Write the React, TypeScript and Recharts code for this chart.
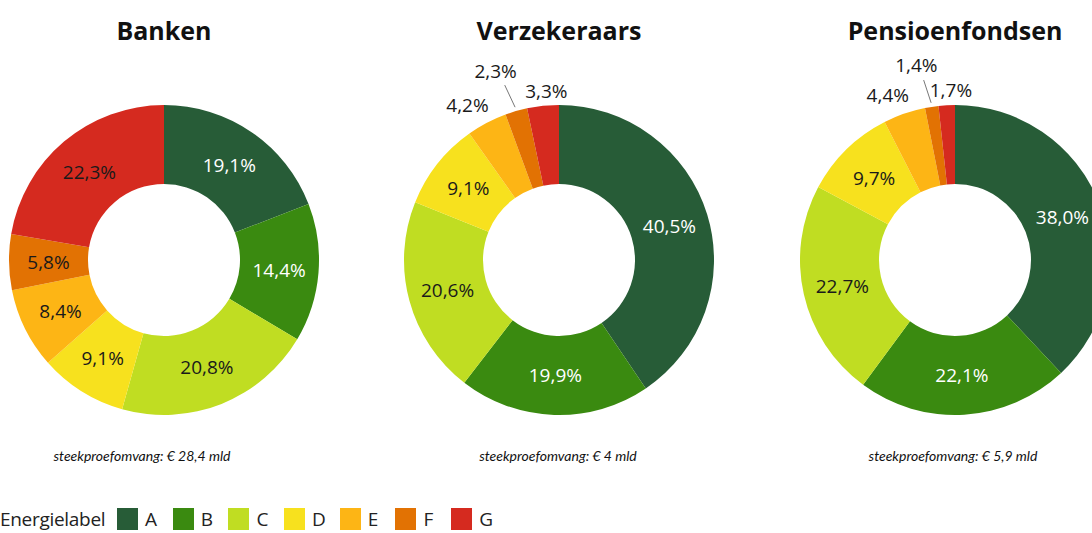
import { PieChart, Pie, Cell, Legend, Customized } from 'recharts';

const categories = ['A', 'B', 'C', 'D', 'E', 'F', 'G'];
const colors = ['#275c37', '#3a8a10', '#c0dd22', '#f7e11e', '#fdb515', '#e27203', '#d52a1f'];

const banken = [19.1, 14.4, 20.8, 9.1, 8.4, 5.8, 22.3];
const verzekeraars = [40.5, 19.9, 20.6, 9.1, 4.2, 2.3, 3.3];
const pensioenfondsen = [38.0, 22.1, 22.7, 9.7, 4.4, 1.4, 1.7];

const titles = ['Banken', 'Verzekeraars', 'Pensioenfondsen'];
const subtitles = [
  'steekproefomvang: € 28,4 mld',
  'steekproefomvang: € 4 mld',
  'steekproefomvang: € 5,9 mld',
];

const W = 1092;
const H = 533;
const CY = 260;
const centers = [164, 559, 955];
const subtitleX = [142, 558, 953];
const INNER = 76;
const OUTER = 155;
const FONT = '"Open Sans", "Noto Sans", sans-serif';
const RAD = Math.PI / 180;

// outside placement for the thin slices (E, F, G) in the 2nd and 3rd donut
const outside: Record<number, { r: number; dx: number; leader?: boolean }> = {
  4: { r: 175, dx: -10 },
  5: { r: 197, dx: -9, leader: true },
  6: { r: 170, dx: 5 },
};

const fmt = (v: number) => v.toFixed(1).replace('.', ',') + '%';

const series = [banken, verzekeraars, pensioenfondsen].map((vals) =>
  vals.map((v, i) => ({ name: categories[i], value: v }))
);

function makeLabel(chartIdx: number) {
  return (props: any) => {
    const { cx, cy, midAngle, innerRadius, outerRadius, index, value } = props;
    const cos = Math.cos(-midAngle * RAD);
    const sin = Math.sin(-midAngle * RAD);
    const place = chartIdx > 0 ? outside[index] : undefined;
    if (place) {
      const x = cx + place.r * cos + place.dx;
      const y = cy + place.r * sin;
      return (
        <g key={`lbl-${chartIdx}-${index}`}>
          {place.leader && (
            <line
              x1={cx + (outerRadius + 4) * cos}
              y1={cy + (outerRadius + 4) * sin}
              x2={cx + (outerRadius + 27) * cos - 4}
              y2={cy + (outerRadius + 27) * sin}
              stroke="#777"
              strokeWidth={1}
            />
          )}
          <text x={x} y={y} fill="#1a1a1a" fontSize={19} fontFamily={FONT} textAnchor="middle" dominantBaseline="central">
            {fmt(value)}
          </text>
        </g>
      );
    }
    const r = (innerRadius + outerRadius) / 2;
    return (
      <text
        key={`lbl-${chartIdx}-${index}`}
        x={cx + r * cos}
        y={cy + r * sin}
        fill={index < 2 ? '#ffffff' : '#1a1a1a'}
        fontSize={19}
        fontFamily={FONT}
        textAnchor="middle"
        dominantBaseline="central"
      >
        {fmt(value)}
      </text>
    );
  };
}

const Headings = () => (
  <g>
    {titles.map((t, i) => (
      <text key={t} x={centers[i]} y={30} textAnchor="middle" dominantBaseline="central"
        fontFamily={FONT} fontWeight={700} fontSize={25} fill="#111">
        {t}
      </text>
    ))}
    {subtitles.map((s, i) => (
      <text key={s} x={subtitleX[i]} y={455} textAnchor="middle" dominantBaseline="central"
        fontFamily='Lato, "Open Sans", sans-serif' fontStyle="italic" fontSize={14} fill="#111">
        {s}
      </text>
    ))}
  </g>
);

const LegendContent = () => (
  <div style={{ display: 'flex', alignItems: 'flex-start', fontFamily: FONT, fontSize: 19, color: '#222', lineHeight: '20px' }}>
    <span style={{ width: 117, marginTop: 1, letterSpacing: -0.3, whiteSpace: 'nowrap' }}>Energielabel</span>
    {categories.map((c, i) => (
      <span key={c} style={{ display: 'flex', alignItems: 'flex-start', width: 55.7 }}>
        <span style={{ width: 21, height: 22, background: colors[i], display: 'inline-block' }} />
        <span style={{ marginLeft: 7, marginTop: 1 }}>{c}</span>
      </span>
    ))}
  </div>
);

export default function App() {
  return (
    <div style={{ position: 'absolute', left: 0, top: 0, width: W, height: H, overflow: 'hidden', background: '#fff' }}>
      <PieChart width={W} height={H} margin={{ top: 0, right: 0, bottom: 0, left: 0 }}>
        {series.map((data, k) => (
          <Pie
            key={titles[k]}
            data={data}
            dataKey="value"
            nameKey="name"
            cx={centers[k]}
            cy={CY}
            innerRadius={INNER}
            outerRadius={OUTER}
            startAngle={90}
            endAngle={-270}
            stroke="none"
            label={makeLabel(k)}
            labelLine={false}
            isAnimationActive={false}
          >
            {data.map((entry, i) => (
              <Cell key={`cell-${k}-${i}`} fill={colors[i]} />
            ))}
          </Pie>
        ))}
        <Customized component={Headings} />
        <Legend
          content={LegendContent}
          wrapperStyle={{ position: 'absolute', left: 0, top: 508, width: 700 }}
        />
      </PieChart>
    </div>
  );
}
